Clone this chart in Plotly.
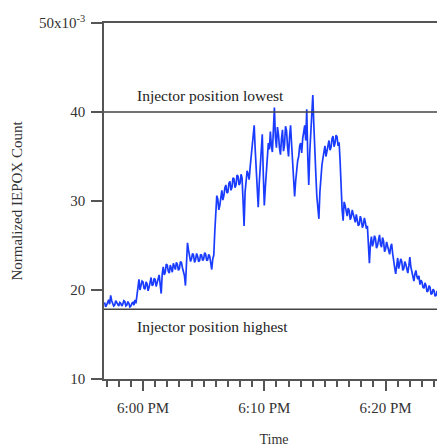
import plotly.graph_objects as go
import pandas as pd

# Sample times: every 5 s starting 5:56:50 PM
start_time = "2013-06-01 17:56:50"
sample_step = "5s"

iepox = [
    18.6, 18.1, 18.3, 18.7, 18.9, 18.4, 19.4, 18.8, 18.5, 18.2,
    18.3, 18.8, 18.6, 18.3, 18.2, 18.6, 18.5, 18.2, 18.4, 18.8,
    18.7, 18.2, 18.3, 18.7, 18.5, 18.1, 18.2, 18.5, 18.6, 18.3,
    18.9, 18.5, 19.3, 20.4, 21.2, 20.0, 20.4, 21.0, 20.9, 20.2,
    20.1, 20.9, 20.7, 19.9, 20.3, 20.8, 21.4, 20.5, 20.6, 21.3,
    21.2, 20.4, 20.8, 21.5, 21.7, 20.6, 19.6, 21.8, 22.6, 21.7,
    22.0, 22.9, 22.8, 22.1, 21.9, 22.8, 22.5, 22.0, 23.0, 22.6,
    22.3, 23.1, 22.9, 22.2, 22.4, 23.2, 23.1, 22.5, 22.0, 21.6,
    20.5, 23.2, 25.3, 24.5, 24.0, 23.2, 23.5, 24.1, 23.9, 23.1,
    23.4, 24.1, 23.8, 23.2, 23.3, 24.0, 23.9, 23.3, 23.5, 24.2,
    24.0, 23.3, 23.4, 24.0, 23.8, 23.0, 22.3, 23.5, 23.9, 26.5,
    28.5, 30.6, 30.2, 29.0, 29.5, 30.8, 31.2, 30.1, 30.6, 31.5,
    31.8, 30.9, 31.0, 32.0, 32.2, 31.2, 31.5, 32.6, 32.5, 31.5,
    31.8, 32.9, 32.8, 31.8, 32.0, 33.0, 32.6, 30.0, 27.2, 31.0,
    32.5, 33.4, 33.0, 32.4, 33.8, 34.9, 35.5, 37.0, 38.5, 35.8,
    34.0, 31.5, 29.3, 32.0, 33.5, 36.0, 37.5, 33.0, 29.5, 31.5,
    33.0, 35.0, 36.5, 35.8, 37.8, 36.2, 35.5, 38.0, 40.5, 37.2,
    36.0, 38.3, 37.5, 36.0, 35.2, 37.0, 38.0, 35.6, 36.3, 38.4,
    37.9, 36.1, 35.0, 37.2, 38.5, 36.4, 34.5, 32.0, 30.5, 32.2,
    33.5, 34.5, 35.0, 36.2, 36.5, 35.4, 37.0, 37.8, 38.5, 36.8,
    40.3, 35.0, 31.8, 35.5, 38.0, 40.0, 41.9, 38.6, 36.5, 33.0,
    30.5, 29.0, 28.0, 31.0, 33.0, 34.0, 34.8, 35.6, 36.2, 35.0,
    35.5, 36.3, 36.8, 35.7, 36.0, 37.0, 37.3, 36.1, 36.5, 37.4,
    37.2, 36.2, 36.6, 34.5, 31.0, 29.0, 27.8, 29.9, 29.5, 28.6,
    28.3, 29.2, 28.9, 27.9, 28.2, 29.0, 28.5, 27.8, 27.6, 28.5,
    28.0, 27.2, 27.4, 28.3, 27.9, 27.0, 27.3, 28.1, 27.6, 26.9,
    27.2, 25.0, 23.0, 25.2, 26.0, 24.9, 25.3, 26.1, 25.8, 24.7,
    25.0, 25.6, 26.2, 25.1, 24.8, 25.9, 25.5, 24.3, 24.6, 25.4,
    24.9, 24.2, 24.0, 24.8, 25.2, 24.1, 23.5, 22.5, 21.8, 23.0,
    23.6, 22.4, 22.8, 23.5, 23.2, 22.2, 22.4, 23.2, 22.9, 22.1,
    21.9, 22.7, 23.7, 22.6, 22.0, 21.4, 21.0, 21.8, 22.2, 21.5,
    21.2, 21.6, 20.6, 21.1, 20.9, 20.3, 20.2, 20.8, 20.5, 19.8,
    19.9, 20.5, 20.3, 19.5, 19.6, 20.1, 19.9, 19.3, 19.4, 19.9,
    19.7, 19.0, 19.2, 19.7, 19.5, 18.9, 19.1, 19.5, 19.3,
]
times = pd.date_range(start=start_time, periods=len(iepox), freq=sample_step)

ref_levels = [40.0, 17.85]
ref_labels = ["Injector position lowest", "Injector position highest"]
ref_label_y = [41.9, 15.95]

ytick_vals = [10, 20, 30, 40, 50]
ytick_text = ["10", "20", "30", "40", "50x10<sup>-3</sup>"]

x_range = ["2013-06-01 17:56:47", "2013-06-01 18:24:49"]

font_family = "Liberation Serif, Times New Roman, serif"
axis_col = "#555555"

fig = go.Figure()
fig.add_trace(go.Scatter(x=times, y=iepox, mode="lines",
                         line=dict(color="#1a3cff", width=1.7),
                         showlegend=False))

for lvl in ref_levels:
    fig.add_shape(type="line", xref="paper", x0=0, x1=1, yref="y", y0=lvl, y1=lvl,
                  line=dict(color="#444444", width=1.5))

for txt, yy in zip(ref_labels, ref_label_y):
    fig.add_annotation(text=txt, xref="paper", x=0.092, xanchor="left",
                       yref="y", y=yy, yanchor="middle", showarrow=False,
                       font=dict(family=font_family, size=15.5, color="#222222"))

fig.update_layout(
    width=437, height=439,
    margin=dict(l=96, r=1, t=15, b=68),
    paper_bgcolor="white", plot_bgcolor="white",
    font=dict(family=font_family, size=15, color="#333333"),
    xaxis=dict(
        type="date", range=x_range, automargin=False,
        tickformat="%-I:%M %p", dtick=600000, tick0="2013-06-01 18:00:00",
        ticks="outside", ticklen=10, tickwidth=1.5, tickcolor=axis_col,
        ticklabelstandoff=4,
        minor=dict(dtick=60000, tick0="2013-06-01 18:00:00", ticks="outside",
                   ticklen=6, tickwidth=1.5, tickcolor=axis_col),
        showline=True, linecolor=axis_col, linewidth=1.5, mirror=True,
        showgrid=False, zeroline=False,
        title=dict(text="Time", standoff=22, font=dict(size=14)),
    ),
    yaxis=dict(
        range=[10, 50], tickvals=ytick_vals, ticktext=ytick_text, automargin=False,
        ticks="outside", ticklen=11, tickwidth=1.5, tickcolor=axis_col,
        ticklabelstandoff=3,
        showline=True, linecolor=axis_col, linewidth=1.5, mirror=True,
        showgrid=False, zeroline=False,
        title=dict(text="Normalized IEPOX Count", standoff=13, font=dict(size=15)),
    ),
)

fig.write_html("out.html")
